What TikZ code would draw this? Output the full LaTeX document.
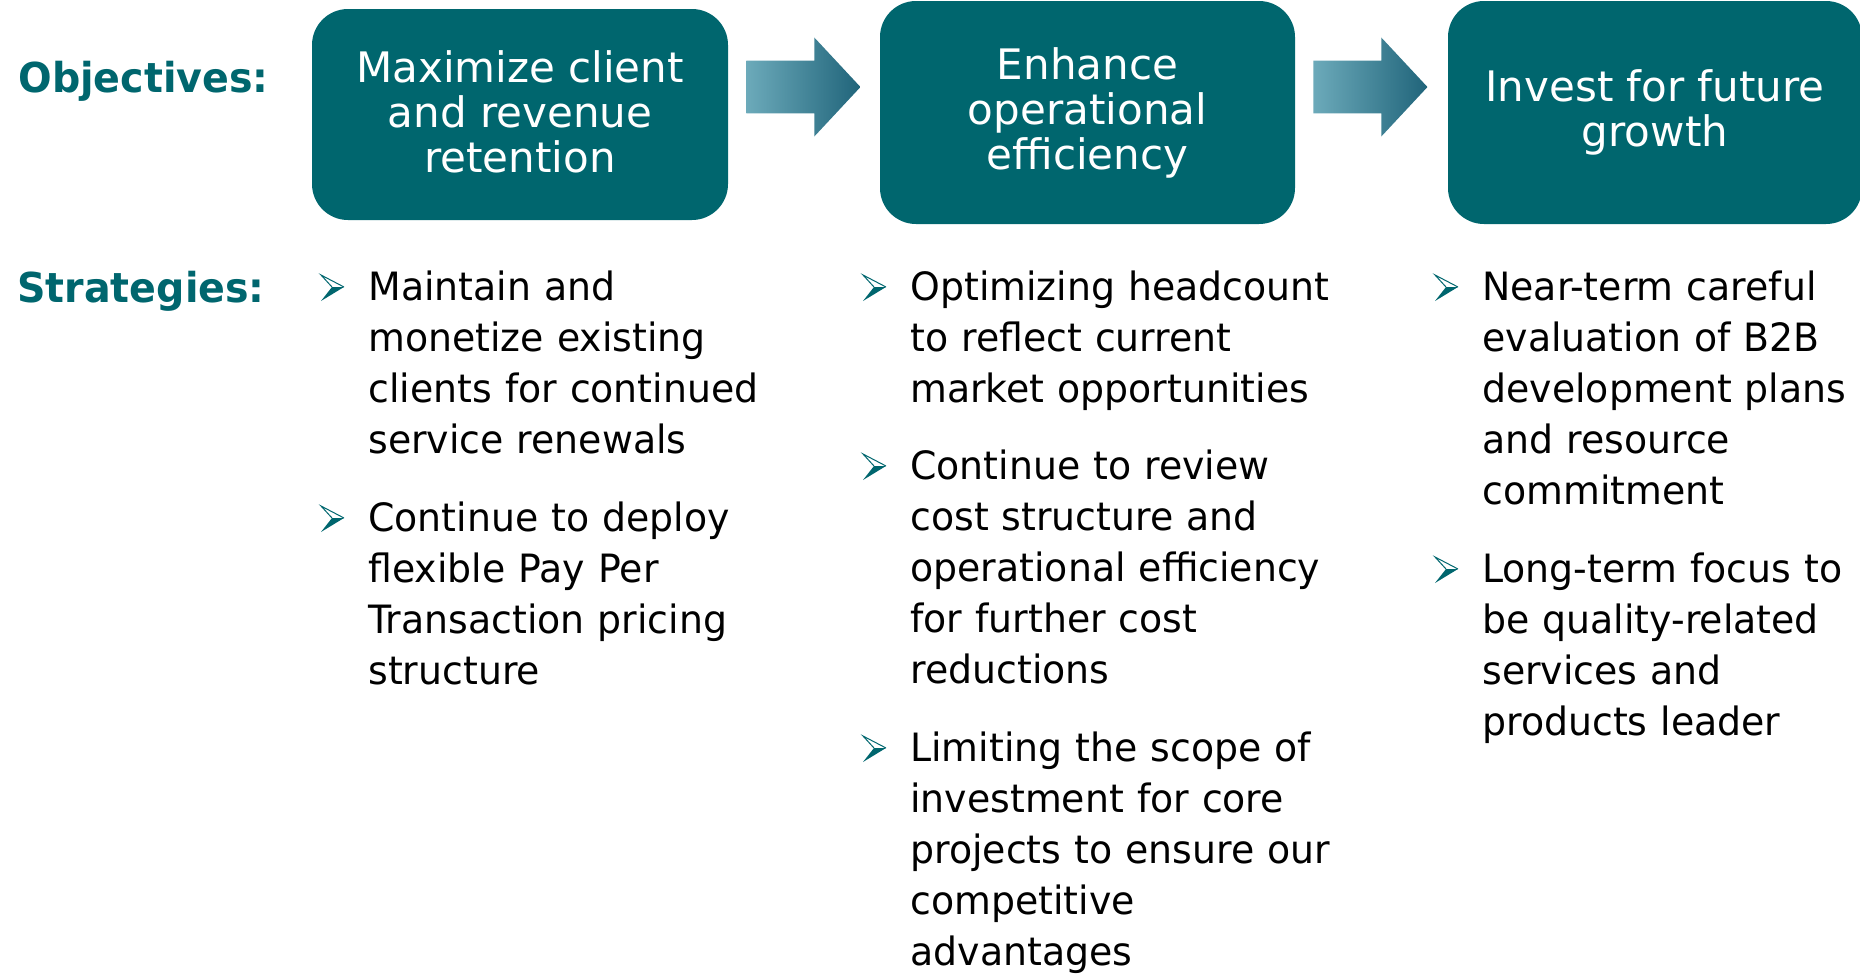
\documentclass[tikz,border=0pt]{standalone}
\usepackage{fontspec}
\setmainfont{DejaVu Sans}[FakeStretch=0.97]
\newfontfamily\headfont{DejaVu Sans}[FakeStretch=0.96]
\newfontfamily\boxfont{DejaVu Sans}
\usetikzlibrary{shapes.arrows,positioning}

\definecolor{teal1}{RGB}{0,102,110}
\definecolor{arrowlight}{RGB}{108,170,186}
\definecolor{arrowdark}{RGB}{32,100,122}

\begin{document}
\begin{tikzpicture}[x=0.5pt,y=-0.5pt,
	objective/.style={fill=teal1,rounded corners=18pt,text=white,align=center,
		inner sep=0pt,font=\boxfont\fontsize{21}{22.5}\selectfont},
	flow/.style={single arrow,draw=none,inner xsep=0pt,inner ysep=13pt,minimum height=57pt,
		single arrow head extend=11.5pt,single arrow tip angle=94,anchor=tip,
		left color=arrowlight,right color=arrowdark},
	rowlabel/.style={anchor=base west,inner sep=0pt,text=teal1,
		font=\headfont\bfseries\fontsize{20.6}{24}\selectfont},
	item/.style={anchor=base west,inner sep=0pt,text width=230pt,align=left,
		font=\fontsize{19.5}{25.6}\selectfont},
	arrowbullet/.pic={
		\fill[teal1] (-36,-13) -- (-24,-13) -- (-47,1) -- cycle;
		\draw[teal1,line width=0.5pt] (-36,-13) -- (-47,-25) -- (-24,-13);
	}]
	\useasboundingbox (0,0) rectangle (1860,976);

	\node[rowlabel] (obj) at (18,92) {Objectives:};
	\node[rowlabel] (str) at (17,302) {Strategies:};

	\node[objective,minimum width=208pt,minimum height=105.5pt] (retain) at (520,114.5)
		{Maximize client\\and revenue\\retention\rule[-3pt]{0pt}{1pt}};
	\node[objective,minimum width=207.5pt,minimum height=111.5pt] (effic) at (1087.5,112.5)
		{Enhance\\operational\\efficiency};
	\node[objective,minimum width=207pt,minimum height=111.5pt] (growth) at (1655,112.5)
		{Invest for future\\growth};

	\node[flow] (f_1) at (861,87) {};
	\node[flow] (f_2) at (1428,87) {};

	% strategies
	\node[item] (m_1) at (368,300) {Maintain and\\monetize existing\\clients for continued\\service renewals};
	\node[item] (m_2) at (368,531) {Continue to deploy\\flexible Pay Per\\Transaction pricing\\structure};

	\node[item] (e_1) at (910,300) {Optimizing headcount\\to reflect current\\market opportunities};
	\node[item] (e_2) at (910,479) {Continue to review\\cost structure and\\operational efficiency\\for further cost\\reductions};
	\node[item] (e_3) at (910,761) {Limiting the scope of\\investment for core\\projects to ensure our\\competitive\\advantages};

	\node[item] (g_1) at (1482,300) {Near-term careful\\evaluation of B2B\\development plans\\and resource\\commitment};
	\node[item] (g_2) at (1482,582) {Long-term focus to\\be quality-related\\services and\\products leader};

	\foreach \n in {m_1,m_2,e_1,e_2,e_3,g_1,g_2}
		\pic at (\n.base west) {arrowbullet};
\end{tikzpicture}
\end{document}
